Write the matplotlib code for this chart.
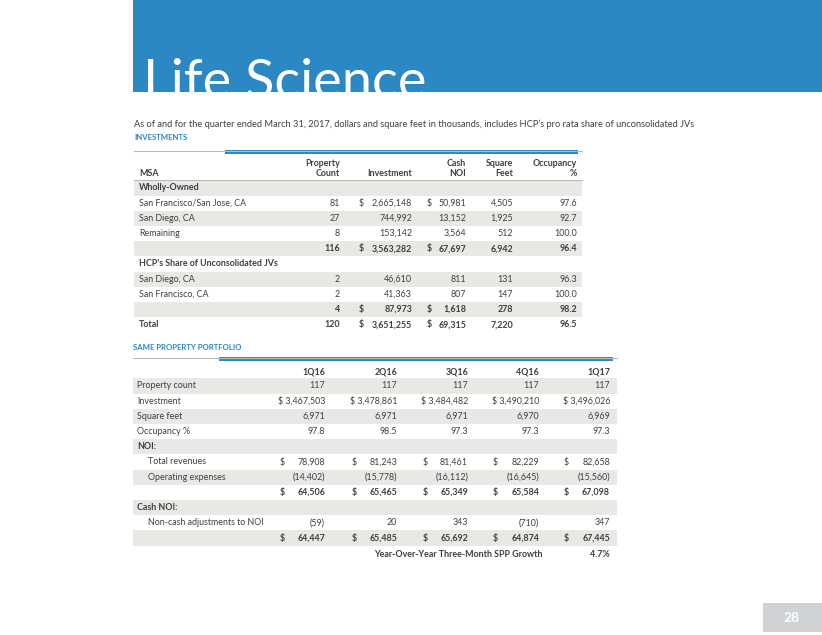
import matplotlib.pyplot as plt
from matplotlib.patches import Rectangle

# ---------------------------------------------------------
# DATEN
# ---------------------------------------------------------
inv_labels = ['Wholly-Owned', 'San Francisco/San Jose, CA', 'San Diego, CA', 'Remaining', '',
              "HCP's Share of Unconsolidated JVs", 'San Diego, CA', 'San Francisco, CA', '', 'Total']
inv_count = ['', '81', '27', '8', '116', '', '2', '2', '4', '120']
inv_investment = ['', '2,665,148', '744,992', '153,142', '3,563,282', '', '46,610', '41,363', '87,973', '3,651,255']
inv_cash_noi = ['', '50,981', '13,152', '3,564', '67,697', '', '811', '807', '1,618', '69,315']
inv_sqft = ['', '4,505', '1,925', '512', '6,942', '', '131', '147', '278', '7,220']
inv_occ = ['', '97.6', '92.7', '100.0', '96.4', '', '96.3', '100.0', '98.2', '96.5']
inv_dollar = [False, True, False, False, True, False, False, False, True, True]
inv_bold = [True, False, False, False, True, True, False, False, True, True]

quarters = ['1Q16', '2Q16', '3Q16', '4Q16', '1Q17']
spp_labels = ['Property count', 'Investment', 'Square feet', 'Occupancy %', 'NOI:',
              'Total revenues', 'Operating expenses', '', 'Cash NOI:',
              'Non-cash adjustments to NOI', '']
spp_values = [
    ['117', '117', '117', '117', '117'],
    ['$ 3,467,503', '$ 3,478,861', '$ 3,484,482', '$ 3,490,210', '$ 3,496,026'],
    ['6,971', '6,971', '6,971', '6,970', '6,969'],
    ['97.8', '98.5', '97.3', '97.3', '97.3'],
    ['', '', '', '', ''],
    ['78,908', '81,243', '81,461', '82,229', '82,658'],
    ['(14,402)', '(15,778)', '(16,112)', '(16,645)', '(15,560)'],
    ['64,506', '65,465', '65,349', '65,584', '67,098'],
    ['', '', '', '', ''],
    ['(59)', '20', '343', '(710)', '347'],
    ['64,447', '65,485', '65,692', '64,874', '67,445'],
]
spp_dollar = [False, False, False, False, False, True, False, True, False, False, True]
spp_bold = [False, False, False, False, True, False, False, True, True, False, True]
spp_indent = [False, False, False, False, False, True, True, False, False, True, False]
spp_growth = '4.7%'

# ---------------------------------------------------------
# STIL
# ---------------------------------------------------------
BLUE = '#2b88c2'
BAND = '#e7e9e5'
TXT = '#3f3f3f'
FONT = 'Lato'
FS = 6.4
STEP = 15.2

fig = plt.figure(figsize=(8.22, 6.35), dpi=100)
ax = fig.add_axes([0, 0, 1, 1])
ax.set_xlim(0, 822)
ax.set_ylim(635, 0)
ax.axis('off')


def txt(x, y, s, ha='left', bold=False, color=TXT, size=FS):
    ax.text(x, y, s, ha=ha, va='center', fontsize=size, color=color, family=FONT,
            fontweight='bold' if bold else 'normal')


# Banner mit Titel (unten abgeschnitten wie im Original)
banner = Rectangle((133, 0), 822 - 133, 92, facecolor=BLUE, edgecolor='none')
ax.add_patch(banner)
title = ax.text(143, 98, 'Life Science', ha='left', va='baseline', fontsize=39,
                color='white', family=FONT, fontweight='normal')
title.set_clip_path(banner)

txt(134, 124, "As of and for the quarter ended March 31, 2017, dollars and square feet in thousands, "
              "includes HCP\u2019s pro rata share of unconsolidated JVs", size=6.7)
txt(134, 137, 'INVESTMENTS', bold=True, color=BLUE, size=5.6)

# ---------------------------------------------------------
# TABELLE 1: Investments
# ---------------------------------------------------------
ax.plot([134, 582], [150.5, 150.5], color='#bbbbbb', lw=0.8)
ax.add_patch(Rectangle((225, 150), 578 - 225, 4, facecolor=BLUE, edgecolor='none'))

hdr = [(340, 'Property', 'Count'), (412, '', 'Investment'), (466, 'Cash', 'NOI'),
       (513, 'Square', 'Feet'), (577, 'Occupancy', '%')]
txt(139, 173, 'MSA', bold=True)
for x, l1, l2 in hdr:
    txt(x, 163, l1, ha='right', bold=True)
    txt(x, 173, l2, ha='right', bold=True)
ax.plot([134, 582], [179.5, 179.5], color='#bbbbbb', lw=0.8)

y0 = 188
for i, lab in enumerate(inv_labels):
    y = y0 + i * STEP
    if i % 2 == 0 and i < len(inv_labels) - 1:
        ax.add_patch(Rectangle((134, y - STEP / 2), 582 - 134, STEP, facecolor=BAND, edgecolor='none'))
    b = inv_bold[i]
    txt(139, y, lab, bold=b)
    txt(340, y, inv_count[i], ha='right', bold=b)
    txt(412, y, inv_investment[i], ha='right', bold=b)
    txt(466, y, inv_cash_noi[i], ha='right', bold=b)
    txt(513, y, inv_sqft[i], ha='right', bold=b)
    txt(577, y, inv_occ[i], ha='right', bold=b)
    if inv_dollar[i]:
        txt(359, y, '$', bold=b)
        txt(427, y, '$', bold=b)

# ---------------------------------------------------------
# TABELLE 2: Same Property Portfolio
# ---------------------------------------------------------
txt(133, 348, 'SAME PROPERTY PORTFOLIO', bold=True, color=BLUE, size=5.6)
ax.plot([133, 617], [358, 358], color='#bbbbbb', lw=0.8)
ax.add_patch(Rectangle((219, 357), 613 - 219, 4, facecolor=BLUE, edgecolor='none'))

col_right = [325, 397, 468, 539, 610]
col_dollar = [280, 352, 423, 493, 564]
for x, q in zip(col_right, quarters):
    txt(x, 372, q, ha='right', bold=True)

y0 = 386
for i, lab in enumerate(spp_labels):
    y = y0 + i * STEP
    if i % 2 == 0:
        ax.add_patch(Rectangle((133, y - STEP / 2), 617 - 133, STEP, facecolor=BAND, edgecolor='none'))
    b = spp_bold[i]
    txt(148 if spp_indent[i] else 137, y, lab, bold=b)
    for j, v in enumerate(spp_values[i]):
        txt(col_right[j], y, v, ha='right', bold=b)
        if spp_dollar[i]:
            txt(col_dollar[j], y, '$', bold=b)

y = y0 + len(spp_labels) * STEP + 1.5
txt(543, y, 'Year-Over-Year Three-Month SPP Growth', ha='right', bold=True)
txt(610, y, spp_growth, ha='right', bold=True)

# Seitenzahl
ax.add_patch(Rectangle((763, 603), 822 - 763, 29, facecolor='#d0d3d6', edgecolor='none'))
txt(792, 618, '28', ha='center', bold=True, color='white', size=10)

plt.savefig('out.png', dpi=100)
plt.close()
